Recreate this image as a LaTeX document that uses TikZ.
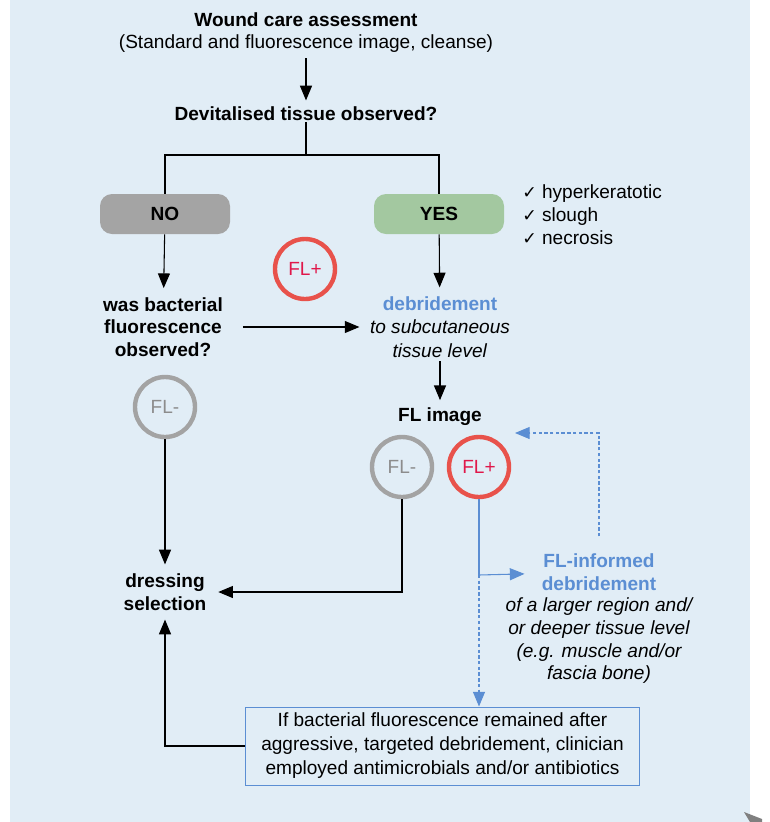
\documentclass[tikz,border=0pt]{standalone}
\usepackage{fontspec}
\setmainfont{Liberation Sans}
\newfontfamily\tickfont{DejaVu Sans}
\usetikzlibrary{arrows.meta}
\definecolor{bgblue}{RGB}{225,237,246}
\definecolor{nogrey}{RGB}{164,164,164}
\definecolor{yesgreen}{RGB}{163,200,160}
\definecolor{flred}{RGB}{232,82,75}
\definecolor{fltext}{RGB}{224,23,74}
\definecolor{flgrey}{RGB}{163,163,163}
\definecolor{flgreytext}{RGB}{140,140,140}
\definecolor{infoblue}{RGB}{91,142,211}

\begin{document}
\begin{tikzpicture}[x=0.75pt,y=0.75pt,yscale=-1,xscale=1,
  every node/.style={inner sep=0.75pt, font=\fontsize{14.3}{17.5}\selectfont},
  txt/.style={align=center},
  hd/.style={align=center, font=\fontsize{14.3}{17}\selectfont\bfseries},
  answer/.style={draw=none, rounded corners=9pt, minimum width=97.5pt, minimum height=30pt, font=\fontsize{14.3}{17}\selectfont\bfseries},
  flpos/.style={circle, draw=flred, line width=3.3pt, minimum size=45pt, text=fltext},
  flneg/.style={circle, draw=flgrey, line width=3.3pt, minimum size=45pt, text=flgreytext},
  arr/.style={line width=0.8pt, -{Triangle[length=11pt,width=9pt]}},
  barr/.style={draw=infoblue, line width=0.8pt, -{Triangle[length=11pt,width=9pt]}},
  dash line/.style={dash pattern=on 2.5pt off 1.8pt}]
\useasboundingbox (0,0) rectangle (770,822);

% background panel
\fill[bgblue] (10,0) rectangle (750,822);
\fill[gray] (744,812) -- (762,819) -- (762,822) -- (750,822) -- cycle;

% Text Node
\node[hd] (wound) at (306,20) {Wound care assessment};
\node[txt] (stdimg) at (306,44) {(Standard and fluorescence image, cleanse)};
\node[hd] (devit) at (306,114) {Devitalised tissue observed?};
\coordinate (split) at (306,155);

% answers
\node[answer, fill=nogrey] (nobox) at (165,214) {NO};
\node[answer, fill=yesgreen] (yesbox) at (439,214) {YES};
\node[anchor=west, align=left, font=\fontsize{14.3}{17.3}\selectfont] (checks) at (521,215)
  {{\tickfont\fontsize{13}{17.3}\selectfont ✓} hyperkeratotic\\{\tickfont\fontsize{13}{17.3}\selectfont ✓} slough\\{\tickfont\fontsize{13}{17.3}\selectfont ✓} necrosis};

\node[flpos] (flplA) at (305,269) {FL+};

\node[hd] (wasbact) at (163,327) {was bacterial\\fluorescence\\observed?};
\node[txt] (debr) at (440,327) {\textbf{\textcolor{infoblue}{debridement}}\\\textit{to subcutaneous}\\\textit{tissue level}};

\node[flneg] (flminA) at (165,407) {FL-};
\node[hd] (flimg) at (440,417) {FL image};
\node[flneg] (flminB) at (402,467) {FL-};
\node[flpos] (flplB) at (479,467) {FL+};

\node[hd] (dressing) at (165,592) {dressing\\selection};

\node[hd, text=infoblue] (flinf) at (599,572) {FL-informed\\debridement};
\node[txt, font=\fontsize{14.3}{17}\selectfont\itshape] (flinfdesc) at (599,641)
  {of a larger region and/\\or deeper tissue level\\(e.g. muscle and/or\\fascia bone)};

\node[draw=infoblue, line width=0.75pt, minimum width=296pt, minimum height=58.5pt, align=center,
  font=\fontsize{14.3}{18}\selectfont] (abxbox) at (442.5,746)
  {If bacterial fluorescence remained after\\aggressive, targeted debridement, clinician\\employed antimicrobials and/or antibiotics};

\coordinate (branch) at (479,575);
\coordinate (back) at (515,433);

% connectors
\draw[arr, shorten <=3pt, shorten >=4pt] (stdimg) -- (devit);
\draw[line width=0.8pt] (devit) -- (split);
\draw[line width=0.8pt] (split) -| (nobox);
\draw[line width=0.8pt] (split) -| (yesbox);
\draw[arr, shorten >=6pt] (nobox) -- (wasbact);
\draw[arr, shorten >=6pt] (yesbox) -- (debr);
\draw[arr, shorten <=14pt, shorten >=7pt] (wasbact) -- (debr);
\draw[arr, shorten <=2pt, shorten >=5pt] (debr) -- (flimg);
\draw[arr, shorten >=6pt] (flminA) -- (dressing);
\draw[arr, shorten >=8pt] (flminB) |- (dressing);
\draw[arr, shorten >=6pt] (abxbox) -| (dressing);

\draw[draw=infoblue, line width=0.8pt] (flplB) -- (branch);
\draw[barr, shorten >=12pt] (branch) -- (flinf);
\draw[barr, dash line] (branch) -- (branch |- abxbox.north);
\draw[barr, dash line, shorten <=12pt] (flinf.north) |- (back);

\end{tikzpicture}
\end{document}
